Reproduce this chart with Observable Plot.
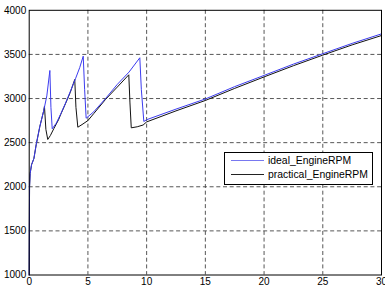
<!DOCTYPE html>
<html>
<head>
<meta charset="utf-8">
<script src="https://cdn.jsdelivr.net/npm/d3@7"></script>
<script src="https://cdn.jsdelivr.net/npm/@observablehq/plot@0.6"></script>
<style>
  html, body { margin: 0; padding: 0; background: #fff; }
  #wrap { position: relative; width: 385px; height: 290px; font-family: "Liberation Sans", Arial, sans-serif; }
  #legend { position: absolute; left: 224px; top: 152px; width: 149px; height: 33px; box-sizing: border-box;
    border: 1px solid #000; background: #fff; font-size: 10.4px; color: #000; }
  .row { position: absolute; left: 6px; height: 13px; display: flex; align-items: center; white-space: nowrap; }
  .sw { width: 33px; height: 0; border-top: 1px solid; margin-right: 4px; }
</style>
</head>
<body>
<div id="wrap">
  <div id="chart"></div>
  <div id="legend">
    <div class="row" style="top:1px"><span class="sw" style="border-color:#7878f0"></span><span>ideal_EngineRPM</span></div>
    <div class="row" style="top:15px"><span class="sw" style="border-color:#222"></span><span>practical_EngineRPM</span></div>
  </div>
</div>
<script>
const xTicks = [0, 5, 10, 15, 20, 25, 30];
const yTicks = [1000, 1500, 2000, 2500, 3000, 3500, 4000];

const idealTime = [0, 0.03, 0.08, 0.2, 0.4, 0.6, 0.9, 1.24, 1.5, 1.76, 1.85, 1.96, 2.3, 2.7, 3.1, 3.5, 3.94, 4.3, 4.6, 4.72, 4.85, 5.5, 6.5, 7.5, 8.5, 9.42, 9.55, 9.76, 10, 12.5, 15, 17.5, 20, 22.5, 25, 27.5, 30];
const idealRPM  = [1000, 2000, 2150, 2250, 2320, 2480, 2680, 2864, 3030, 3318, 2900, 2657, 2720, 2830, 2950, 3080, 3224, 3350, 3480, 3100, 2777, 2850, 3000, 3160, 3300, 3462, 3100, 2740, 2760, 2880, 2995, 3135, 3262, 3390, 3508, 3625, 3733];

const practicalTime = [0, 0.03, 0.08, 0.2, 0.4, 0.6, 0.9, 1.24, 1.30, 1.42, 1.58, 1.8, 2.1, 2.5, 2.7, 3.1, 3.5, 3.88, 3.98, 4.14, 4.5, 5, 5.5, 6.5, 7.5, 8.48, 8.58, 8.69, 9.2, 9.7, 10, 12.5, 15, 17.5, 20, 22.5, 25, 27.5, 30];
const practicalRPM  = [1000, 2000, 2150, 2250, 2320, 2480, 2680, 2864, 2913, 2650, 2536, 2580, 2660, 2760, 2825, 2945, 3070, 3216, 2900, 2675, 2705, 2750, 2830, 2990, 3130, 3269, 2950, 2668, 2680, 2700, 2735, 2860, 2978, 3115, 3245, 3372, 3492, 3608, 3714];

const ideal = idealTime.map((t, i) => ({t, rpm: idealRPM[i]}));
const practical = practicalTime.map((t, i) => ({t, rpm: practicalRPM[i]}));

const chart = Plot.plot({
  width: 385,
  height: 290,
  marginLeft: 28.7,
  marginRight: 4,
  marginTop: 9.8,
  marginBottom: 15.5,
  style: { fontFamily: "'Liberation Sans', Arial, sans-serif", fontSize: "10px", background: "#fff", color: "#000", overflow: "hidden" },
  x: { domain: [0, 30], ticks: xTicks, label: null },
  y: { domain: [1000, 4000], ticks: yTicks, label: null },
  marks: [
    Plot.gridX(xTicks.slice(1, -1), { stroke: "#444", strokeOpacity: 1, strokeWidth: 0.9, strokeDasharray: "4,2.7" }),
    Plot.gridY(yTicks.slice(1, -1), { stroke: "#444", strokeOpacity: 1, strokeWidth: 0.9, strokeDasharray: "4,2.7" }),
    Plot.axisX(xTicks, { tickSize: 0, tickPadding: 3, fontSize: 10, tickFormat: d3.format("d") }),
    Plot.axisY(yTicks, { tickSize: 0, tickPadding: 3, fontSize: 10, tickFormat: d3.format("d") }),
    Plot.line(practical, { x: "t", y: "rpm", stroke: "#111", strokeWidth: 1 }),
    Plot.line(ideal, { x: "t", y: "rpm", stroke: "#3c3cf0", strokeWidth: 1 }),
    Plot.frame({ stroke: "#000", strokeWidth: 1 })
  ]
});
document.getElementById("chart").appendChild(chart);
</script>
</body>
</html>
